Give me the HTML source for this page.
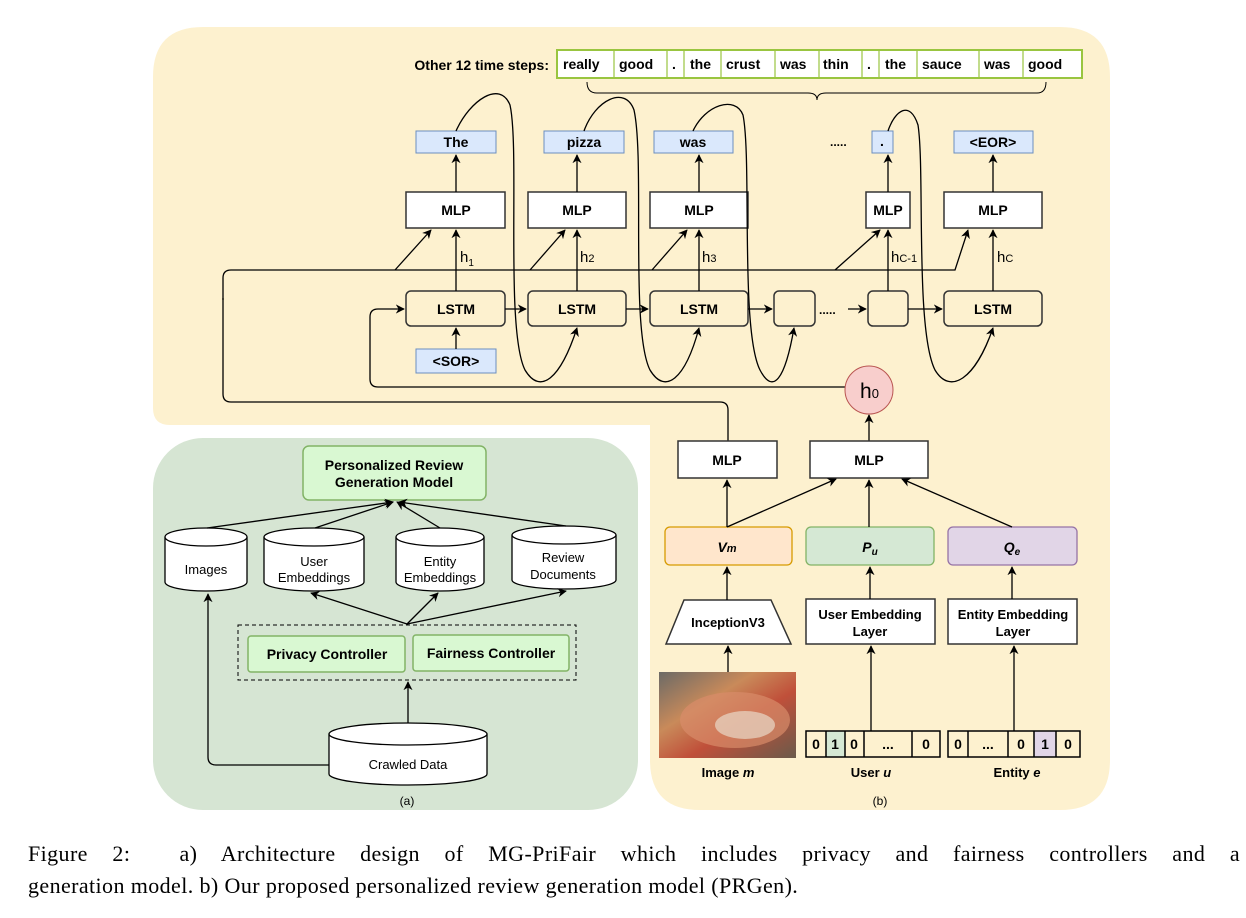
<!DOCTYPE html>
<html><head><meta charset="utf-8"><style>
body{margin:0;background:#fff;width:1246px;height:918px;overflow:hidden}
svg text{font-family:"Liberation Sans",Arial,sans-serif}
.b{font-weight:bold;font-size:14px}
.cap{font-family:"Liberation Serif",serif;font-size:22px;position:absolute;left:28px;width:1212px;text-align:justify;text-align-last:justify;line-height:32px;margin:0;white-space:nowrap;letter-spacing:0.4px}
</style></head><body>
<svg width="1246" height="918" style="position:absolute;left:0;top:0">
<defs>
<marker id="a" viewBox="0 0 10 10" refX="9" refY="5" markerWidth="7" markerHeight="7" orient="auto-start-reverse"><path d="M0,0 L10,5 L0,10 L3,5 z" fill="#000"/></marker>
<linearGradient id="pz" x1="0" y1="0" x2="1" y2="1"><stop offset="0" stop-color="#6b6a66"/><stop offset="0.35" stop-color="#c98a5a"/><stop offset="0.6" stop-color="#c0503a"/><stop offset="1" stop-color="#6a5a4a"/></linearGradient>
</defs>
<path d="M203,27 H1060 Q1110,27 1110,77 V760 Q1110,810 1060,810 H700 Q650,810 650,760 V425 H170 Q153,425 153,408 V77 Q153,27 203,27 Z" fill="#fdf1cf"/>
<rect x="153" y="438" width="485" height="372" rx="50" fill="#d6e5d3"/>

<text x="549" y="70" class="b" text-anchor="end" font-size="13">Other 12 time steps:</text>
<rect x="557" y="50" width="525" height="28" fill="#fff" stroke="#99c540" stroke-width="2"/>
<g stroke="#99c540" stroke-width="1.2">
<line x1="614" y1="50" x2="614" y2="78"/><line x1="667" y1="50" x2="667" y2="78"/><line x1="684" y1="50" x2="684" y2="78"/><line x1="721" y1="50" x2="721" y2="78"/><line x1="775" y1="50" x2="775" y2="78"/><line x1="819" y1="50" x2="819" y2="78"/><line x1="862" y1="50" x2="862" y2="78"/><line x1="879" y1="50" x2="879" y2="78"/><line x1="917" y1="50" x2="917" y2="78"/><line x1="979" y1="50" x2="979" y2="78"/><line x1="1023" y1="50" x2="1023" y2="78"/>
</g>
<g class="b" font-size="13">
<text x="563" y="69">really</text><text x="619" y="69">good</text><text x="672" y="69">.</text><text x="690" y="69">the</text><text x="726" y="69">crust</text><text x="780" y="69">was</text><text x="823" y="69">thin</text><text x="867" y="69">.</text><text x="885" y="69">the</text><text x="922" y="69">sauce</text><text x="984" y="69">was</text><text x="1028" y="69">good</text>
</g>
<path d="M587,82 Q587,93 597,93 H808 Q817,93 817,100 Q817,93 826,93 H1037 Q1046,93 1046,82" fill="none" stroke="#000"/>

<g fill="#dae8fc" stroke="#6c8ebf">
<rect x="416" y="131" width="80" height="22"/><rect x="544" y="131" width="80" height="22"/><rect x="654" y="131" width="79" height="22"/><rect x="872" y="131" width="21" height="22"/><rect x="954" y="131" width="79" height="22"/><rect x="416" y="349" width="80" height="24"/>
</g>
<g class="b" font-size="13" text-anchor="middle">
<text x="456" y="147">The</text><text x="584" y="147">pizza</text><text x="693" y="147">was</text><text x="882" y="146">.</text><text x="993" y="147">&lt;EOR&gt;</text><text x="456" y="366">&lt;SOR&gt;</text>
</g>
<text x="830" y="146" font-size="12" font-weight="bold">.....</text>

<g fill="#fff" stroke="#333" stroke-width="1.5">
<rect x="406" y="192" width="99" height="36"/><rect x="528" y="192" width="98" height="36"/><rect x="650" y="192" width="98" height="36"/><rect x="866" y="192" width="44" height="36"/><rect x="944" y="192" width="98" height="36"/>
</g>
<g class="b" text-anchor="middle">
<text x="456" y="215">MLP</text><text x="577" y="215">MLP</text><text x="699" y="215">MLP</text><text x="888" y="215">MLP</text><text x="993" y="215">MLP</text>
</g>
<g fill="#fdf1cf" stroke="#333" stroke-width="1.5">
<rect x="406" y="291" width="99" height="35" rx="5"/><rect x="528" y="291" width="98" height="35" rx="5"/><rect x="650" y="291" width="98" height="35" rx="5"/><rect x="774" y="291" width="41" height="35" rx="5"/><rect x="868" y="291" width="40" height="35" rx="5"/><rect x="944" y="291" width="98" height="35" rx="5"/>
</g>
<g class="b" text-anchor="middle">
<text x="456" y="314">LSTM</text><text x="577" y="314">LSTM</text><text x="699" y="314">LSTM</text><text x="993" y="314">LSTM</text>
</g>
<text x="819" y="314" font-size="12" font-weight="bold">.....</text>

<g stroke="#000" stroke-width="1.3" fill="none" marker-end="url(#a)">
<line x1="456" y1="192" x2="456" y2="155"/><line x1="577" y1="192" x2="577" y2="155"/><line x1="699" y1="192" x2="699" y2="155"/><line x1="888" y1="192" x2="888" y2="155"/><line x1="993" y1="192" x2="993" y2="155"/>
<line x1="456" y1="291" x2="456" y2="230"/><line x1="577" y1="291" x2="577" y2="230"/><line x1="699" y1="291" x2="699" y2="230"/><line x1="888" y1="291" x2="888" y2="230"/><line x1="993" y1="291" x2="993" y2="230"/>
<line x1="395" y1="270" x2="431" y2="230"/><line x1="530" y1="270" x2="565" y2="230"/><line x1="652" y1="270" x2="687" y2="230"/><line x1="835" y1="270" x2="880" y2="230"/>
<path d="M223,300 V278 Q223,270 231,270 H955 L968,230"/>
<line x1="456" y1="349" x2="456" y2="328"/>
<line x1="505" y1="309" x2="526" y2="309"/><line x1="626" y1="309" x2="648" y2="309"/><line x1="748" y1="309" x2="772" y2="309"/><line x1="848" y1="309" x2="866" y2="309"/><line x1="908" y1="309" x2="942" y2="309"/>
<path d="M846,387 H378 Q370,387 370,379 V317 Q370,309 378,309 H404"/>
<path d="M456,131 C470,100 500,80 510,105 C520,150 505,330 525,370 C540,395 560,380 577,328"/>
<path d="M584,131 C595,100 625,85 634,110 C645,160 630,330 650,370 C665,395 685,380 699,328"/>
<path d="M693,131 C705,105 735,95 743,115 C752,160 740,330 760,370 C773,395 785,380 794,328"/>
<path d="M888,131 C895,110 910,100 918,125 C925,170 915,330 935,370 C950,395 975,380 993,328"/>
<line x1="869" y1="441" x2="869" y2="415"/>
</g>
<line x1="223" y1="298" x2="223" y2="394" stroke="#000" stroke-width="1.3"/>
<path d="M223,394 Q223,402 231,402 H720 Q728,402 728,410 V441" fill="none" stroke="#000" stroke-width="1.3"/>
<text x="460" y="262" font-size="15">h<tspan font-size="10" dy="4">1</tspan></text>
<text x="580" y="262" font-size="15">h<tspan font-size="11">2</tspan></text>
<text x="702" y="262" font-size="15">h<tspan font-size="11">3</tspan></text>
<text x="891" y="262" font-size="15">h<tspan font-size="11">C-1</tspan></text>
<text x="997" y="262" font-size="15">h<tspan font-size="11">C</tspan></text>
<circle cx="869" cy="390" r="24" fill="#f8cecc" stroke="#b85450"/>
<text x="860" y="398" font-size="21">h<tspan font-size="13">0</tspan></text>

<g fill="#fff" stroke="#333" stroke-width="1.5">
<rect x="678" y="441" width="99" height="37"/><rect x="810" y="441" width="118" height="37"/>
<rect x="806" y="599" width="129" height="45"/><rect x="948" y="599" width="129" height="45"/>
<path d="M684,600 H771 L791,644 H666 Z"/>
</g>
<rect x="665" y="527" width="127" height="38" rx="5" fill="#ffe6cc" stroke="#d79b00" stroke-width="1.3"/>
<rect x="806" y="527" width="128" height="38" rx="5" fill="#d5e8d4" stroke="#82b366" stroke-width="1.3"/>
<rect x="948" y="527" width="129" height="38" rx="5" fill="#e1d5e7" stroke="#9673a6" stroke-width="1.3"/>
<g class="b" text-anchor="middle">
<text x="727" y="465">MLP</text><text x="869" y="465">MLP</text>
<text x="728" y="627" font-size="13">InceptionV3</text>
<text x="870" y="619" font-size="13">User Embedding</text><text x="870" y="636" font-size="13">Layer</text>
<text x="1013" y="619" font-size="13">Entity Embedding</text><text x="1013" y="636" font-size="13">Layer</text>
<text x="727" y="552" font-style="italic">V<tspan font-size="11">m</tspan></text>
<text x="870" y="552" font-style="italic">P<tspan font-size="10" dy="3">u</tspan></text>
<text x="1012" y="552" font-style="italic">Q<tspan font-size="10" dy="3">e</tspan></text>
<text x="728" y="777" font-size="13">Image <tspan font-style="italic">m</tspan></text>
<text x="871" y="777" font-size="13">User <tspan font-style="italic">u</tspan></text>
<text x="1017" y="777" font-size="13">Entity <tspan font-style="italic">e</tspan></text>
</g>
<rect x="659" y="672" width="137" height="86" fill="url(#pz)"/>
<ellipse cx="735" cy="720" rx="55" ry="28" fill="#d98c6a" opacity="0.7"/>
<ellipse cx="745" cy="725" rx="30" ry="14" fill="#e8d8c8" opacity="0.7"/>
<rect x="826" y="731" width="19" height="26" fill="#d5e8d4"/>
<rect x="1034" y="731" width="22" height="26" fill="#e1d5e7"/>
<g fill="none" stroke="#000" stroke-width="1.5">
<rect x="806" y="731" width="134" height="26"/><rect x="948" y="731" width="132" height="26"/>
<path d="M826,731V757M845,731V757M864,731V757M912,731V757M968,731V757M1008,731V757M1034,731V757M1056,731V757"/>
</g>
<g class="b" text-anchor="middle" font-size="13">
<text x="816" y="749">0</text><text x="835" y="749">1</text><text x="854" y="749">0</text><text x="888" y="749">...</text><text x="926" y="749">0</text>
<text x="958" y="749">0</text><text x="988" y="749">...</text><text x="1021" y="749">0</text><text x="1045" y="749">1</text><text x="1068" y="749">0</text>
</g>
<text x="880" y="805" font-size="12" text-anchor="middle">(b)</text>
<g stroke="#000" stroke-width="1.3" fill="none" marker-end="url(#a)">
<line x1="727" y1="527" x2="727" y2="480"/><line x1="727" y1="527" x2="836" y2="479"/><line x1="869" y1="527" x2="869" y2="480"/><line x1="1012" y1="527" x2="902" y2="479"/>
<line x1="727" y1="600" x2="727" y2="567"/><line x1="870" y1="599" x2="870" y2="567"/><line x1="1012" y1="599" x2="1012" y2="567"/>
<line x1="728" y1="672" x2="728" y2="646"/><line x1="871" y1="731" x2="871" y2="646"/><line x1="1014" y1="731" x2="1014" y2="646"/>
</g>

<rect x="303" y="446" width="183" height="54" rx="6" fill="#d9f8d2" stroke="#82b366" stroke-width="1.5"/>
<text x="394" y="470" class="b" font-size="13" text-anchor="middle">Personalized Review</text>
<text x="394" y="487" class="b" font-size="13" text-anchor="middle">Generation Model</text>
<g fill="#fff" stroke="#000" stroke-width="1.3">
<path d="M165,537 V582 A41,9 0 0 0 247,582 V537"/><ellipse cx="206" cy="537" rx="41" ry="9"/>
<path d="M264,537 V582 A50,9 0 0 0 364,582 V537"/><ellipse cx="314" cy="537" rx="50" ry="9"/>
<path d="M396,537 V582 A44,9 0 0 0 484,582 V537"/><ellipse cx="440" cy="537" rx="44" ry="9"/>
<path d="M512,535 V580 A52,9 0 0 0 616,580 V535"/><ellipse cx="564" cy="535" rx="52" ry="9"/>
<path d="M329,734 V774 A79,11 0 0 0 487,774 V734"/><ellipse cx="408" cy="734" rx="79" ry="11"/>
</g>
<g font-size="13" text-anchor="middle">
<text x="206" y="574">Images</text>
<text x="314" y="566">User</text><text x="314" y="582">Embeddings</text>
<text x="440" y="566">Entity</text><text x="440" y="582">Embeddings</text>
<text x="563" y="562">Review</text><text x="563" y="579">Documents</text>
<text x="408" y="769">Crawled Data</text>
</g>
<rect x="238" y="625" width="338" height="55" fill="none" stroke="#000" stroke-dasharray="4,3"/>
<rect x="248" y="636" width="157" height="36" rx="3" fill="#d9f8d2" stroke="#82b366" stroke-width="1.5"/>
<rect x="413" y="635" width="156" height="36" rx="3" fill="#d9f8d2" stroke="#82b366" stroke-width="1.5"/>
<text x="327" y="659" class="b" font-size="13" text-anchor="middle">Privacy Controller</text>
<text x="491" y="658" class="b" font-size="13" text-anchor="middle">Fairness Controller</text>
<text x="407" y="805" font-size="12" text-anchor="middle">(a)</text>
<g stroke="#000" stroke-width="1.3" fill="none" marker-end="url(#a)">
<line x1="207" y1="528" x2="393" y2="502"/><line x1="315" y1="528" x2="393" y2="502"/><line x1="440" y1="528" x2="397" y2="502"/><line x1="566" y1="526" x2="399" y2="502"/>
<line x1="407" y1="624" x2="311" y2="593"/><line x1="407" y1="624" x2="438" y2="593"/><line x1="407" y1="624" x2="566" y2="591"/>
<line x1="408" y1="723" x2="408" y2="682"/>
<path d="M329,765 H216 Q208,765 208,757 V594"/>
</g>
</svg>
<p class="cap" style="top:838px">Figure 2: &nbsp;a) Architecture design of MG-PriFair which includes privacy and fairness controllers and a</p>
<p class="cap" style="top:870px;text-align-last:left">generation model. b) Our proposed personalized review generation model (PRGen).</p>
</body></html>
